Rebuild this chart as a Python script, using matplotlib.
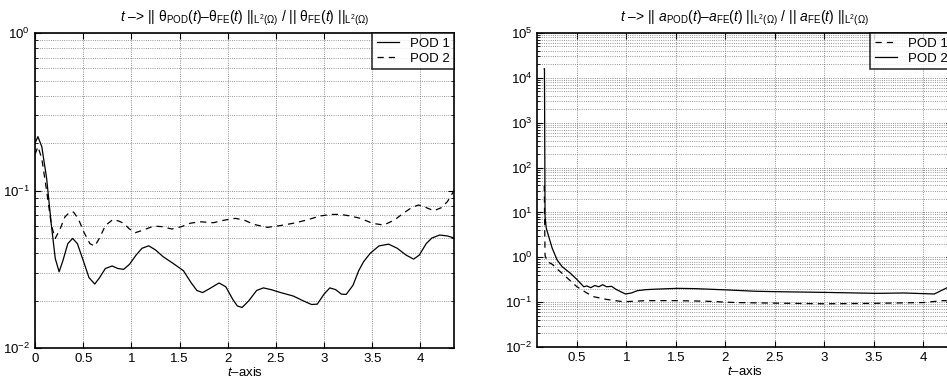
import numpy as np
import matplotlib
matplotlib.use("Agg")
import matplotlib.pyplot as plt
from matplotlib.ticker import LogLocator, NullFormatter

plt.rcParams['font.family'] = ['Liberation Sans', 'DejaVu Sans']
plt.rcParams['mathtext.fontset'] = 'custom'
plt.rcParams['mathtext.rm'] = 'Liberation Sans'
plt.rcParams['mathtext.it'] = 'Liberation Sans:italic'
plt.rcParams['mathtext.sf'] = 'Liberation Sans'

# left panel: temperature error
t_left_pod1 = [0.0, 0.03, 0.07, 0.12, 0.17, 0.21, 0.25, 0.29, 0.34, 0.39, 0.44, 0.50, 0.56,
               0.62, 0.67, 0.73, 0.80, 0.86, 0.92, 0.98, 1.05, 1.11, 1.18, 1.25, 1.33, 1.43,
               1.54, 1.62, 1.68, 1.74, 1.82, 1.91, 1.98, 2.05, 2.10, 2.15, 2.22, 2.30, 2.37,
               2.45, 2.55, 2.68, 2.78, 2.87, 2.93, 3.00, 3.06, 3.12, 3.18, 3.23, 3.30, 3.36,
               3.41, 3.48, 3.57, 3.67, 3.76, 3.85, 3.93, 3.99, 4.06, 4.12, 4.20, 4.28, 4.35]
err_left_pod1 = [0.20, 0.22, 0.19, 0.12, 0.06, 0.037, 0.0305, 0.036, 0.046, 0.0497, 0.046,
                 0.036, 0.028, 0.0255, 0.028, 0.032, 0.0332, 0.032, 0.0316, 0.034, 0.039,
                 0.043, 0.0446, 0.042, 0.038, 0.0346, 0.031, 0.026, 0.0232, 0.0225, 0.024,
                 0.0259, 0.0245, 0.0205, 0.0185, 0.0181, 0.020, 0.0232, 0.0241, 0.0235,
                 0.0225, 0.0214, 0.020, 0.0189, 0.0190, 0.022, 0.0241, 0.0235, 0.022, 0.0219,
                 0.025, 0.031, 0.0353, 0.040, 0.0445, 0.0457, 0.043, 0.039, 0.0367, 0.039,
                 0.046, 0.050, 0.0522, 0.0515, 0.050]

t_left_pod2 = [0.0, 0.03, 0.07, 0.12, 0.17, 0.21, 0.26, 0.31, 0.36, 0.40, 0.45, 0.51, 0.57,
               0.62, 0.67, 0.73, 0.81, 0.87, 0.92, 0.98, 1.04, 1.12, 1.23, 1.32, 1.42, 1.52,
               1.61, 1.71, 1.85, 1.97, 2.08, 2.17, 2.27, 2.41, 2.55, 2.68, 2.82, 2.96, 3.07,
               3.17, 3.27, 3.38, 3.50, 3.62, 3.73, 3.83, 3.91, 3.98, 4.06, 4.14, 4.22, 4.28, 4.35]
err_left_pod2 = [0.17, 0.19, 0.16, 0.10, 0.06, 0.0497, 0.057, 0.068, 0.073, 0.073, 0.066,
                 0.054, 0.046, 0.0444, 0.050, 0.060, 0.0656, 0.064, 0.062, 0.057, 0.054,
                 0.056, 0.0595, 0.059, 0.057, 0.059, 0.062, 0.0634, 0.0625, 0.065, 0.0666,
                 0.065, 0.061, 0.0584, 0.060, 0.062, 0.065, 0.069, 0.0705, 0.0706, 0.069,
                 0.0666, 0.062, 0.0604, 0.065, 0.0723, 0.078, 0.081, 0.078, 0.0744, 0.078,
                 0.085, 0.10]

# right panel: coefficient error
t_right_pod1 = [0.168, 0.170, 0.178, 0.20, 0.25, 0.30, 0.40, 0.50, 0.60, 0.67, 0.80, 0.97,
                1.2, 1.5, 1.8, 2.1, 2.5, 3.0, 3.5, 4.0, 4.2, 4.35]
err_right_pod1 = [40, 40, 1.1, 0.8, 0.7, 0.55, 0.35, 0.22, 0.16, 0.132, 0.115, 0.102,
                  0.108, 0.108, 0.105, 0.098, 0.095, 0.092, 0.094, 0.098, 0.108, 0.105]

t_right_pod2 = [0.170, 0.172, 0.178, 0.19, 0.215, 0.25, 0.30, 0.35, 0.434, 0.50, 0.569, 0.60,
                0.64, 0.68, 0.72, 0.76, 0.80, 0.85, 0.90, 0.99, 1.05, 1.11, 1.2, 1.3, 1.51,
                1.7, 2.02, 2.3, 2.52, 3.0, 3.53, 3.8, 4.11, 4.24, 4.35]
err_right_pod2 = [1.6e4, 1.6e4, 8, 4.5, 2.9, 1.6, 0.87, 0.62, 0.44, 0.32, 0.22, 0.23, 0.21,
                  0.235, 0.22, 0.245, 0.22, 0.225, 0.19, 0.152, 0.16, 0.18, 0.19, 0.195,
                  0.203, 0.2, 0.187, 0.175, 0.171, 0.165, 0.157, 0.16, 0.152, 0.21, 0.25]

x_ticks_left = [0, 0.5, 1, 1.5, 2, 2.5, 3, 3.5, 4]
x_ticks_right = [0.5, 1, 1.5, 2, 2.5, 3, 3.5, 4]

title_left = (r'$t$ –> || $\mathrm{θ}_{\mathrm{POD}}(t)$–$\mathrm{θ}_{\mathrm{FE}}(t)$ '
              r'$||_{\mathrm{L}^{2}(\Omega)}$ / || $\mathrm{θ}_{\mathrm{FE}}(t)$ '
              r'$||_{\mathrm{L}^{2}(\Omega)}$')
title_right = (r'$t$ –> || $a_{\mathrm{POD}}(t)$–$a_{\mathrm{FE}}(t)$ '
               r'$||_{\mathrm{L}^{2}(\Omega)}$ / || $a_{\mathrm{FE}}(t)$ '
               r'$||_{\mathrm{L}^{2}(\Omega)}$')

fig = plt.figure(figsize=(9.47, 3.85), dpi=100)
ax1 = fig.add_axes([0.037, 0.096, 0.4425, 0.818])
ax2 = fig.add_axes([0.5674, 0.0987, 0.438, 0.8156])

dash = (5, 4)

def style(ax, ylo, yhi, xlo, xhi, xticks):
    ax.set_yscale('log')
    ax.set_ylim(ylo, yhi)
    ax.set_xlim(xlo, xhi)
    ax.set_xticks(xticks)
    ax.set_xticklabels([f'{v:g}' for v in xticks])
    ax.yaxis.set_major_locator(LogLocator(base=10, numticks=20))
    ax.yaxis.set_minor_locator(LogLocator(base=10, subs=np.arange(2, 10), numticks=20))
    ax.yaxis.set_minor_formatter(NullFormatter())
    ax.tick_params(which='both', direction='in', top=True, right=True, labelsize=9.5)
    ax.tick_params(which='major', length=4)
    ax.tick_params(which='minor', length=2)
    ax.grid(True, which='major', axis='both', linestyle=':', color='0.4', linewidth=0.6)
    ax.grid(True, which='minor', axis='y', linestyle=':', color='0.45', linewidth=0.6)
    ax.set_xlabel(r'$t$–axis', fontsize=9.5, va='top')
    ax.xaxis.set_label_coords(0.5, -0.058)
    for s in ax.spines.values():
        s.set_linewidth(1.2)

def legend(ax):
    leg = ax.legend(loc='upper right', fontsize=9.5, frameon=True, fancybox=False,
                    edgecolor='black', borderaxespad=0.0, handlelength=1.7,
                    handletextpad=0.8, borderpad=0.35, labelspacing=0.2)
    leg.get_frame().set_linewidth(1.2)

ax1.plot(t_left_pod1, err_left_pod1, color='black', lw=0.9, label='POD 1')
ax1.plot(t_left_pod2, err_left_pod2, color='black', lw=0.9, dashes=dash, label='POD 2')
style(ax1, 1e-2, 1e0, 0, 4.35, x_ticks_left)
ax1.set_title(title_left, fontsize=10, pad=8)
legend(ax1)

ax2.plot(t_right_pod1, err_right_pod1, color='black', lw=0.9, dashes=dash, label='POD 1')
ax2.plot(t_right_pod2, err_right_pod2, color='black', lw=0.9, label='POD 2')
style(ax2, 1e-2, 1e5, 0.1, 4.29, x_ticks_right)
ax2.set_title(title_right, fontsize=10, pad=8)
legend(ax2)

fig.savefig('out.png', dpi=100)
